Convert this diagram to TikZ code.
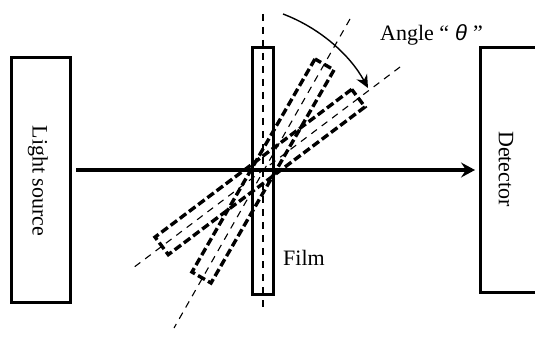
\documentclass[tikz,border=0pt]{standalone}
\usepackage{fontspec}
\setmainfont{Liberation Serif}
\newfontfamily\thetafont{Liberation Sans}
\usetikzlibrary{arrows.meta}

\begin{document}
\begin{tikzpicture}[
  x=1pt, y=-1pt,
  font=\fontsize{22}{24}\selectfont,
  box/.style    ={draw, line width=3pt, inner sep=0pt},
  sample/.style ={draw, line width=3.4pt, dash pattern=on 8pt off 3.5pt, inner sep=0pt,
                  minimum width=246pt, minimum height=22pt},
  axis/.style   ={line width=1.1pt, dash pattern=on 7pt off 6pt},
  flow/.style   ={-{Stealth[length=14pt,width=15pt,inset=5pt]}, line width=3.2pt},
  sweep/.style  ={-{Stealth[length=13pt,width=12pt]}, line width=1.4pt},
  lbl/.style    ={inner sep=0pt},
]
\useasboundingbox (0,0) rectangle (535,342);

\node[box, minimum width=59pt, minimum height=244pt] (source) at (40.5,180) {};
\node[lbl, rotate=-90] (sourcelabel) at (38,181) {Light source};
\node[box, minimum width=70pt, minimum height=245pt, anchor=north west] (detector) at (479,46) {};
\node[lbl, rotate=-90] (detectorlabel) at (506,169) {Detector};

\node[box, minimum width=21pt, minimum height=246pt] (film) at (262.5,171) {};
\node[lbl, anchor=west] (filmlabel) at (283,258) {Film};

\node[sample, rotate=60] (steep) at (263,171) {};
\node[sample, rotate=36.9] (wide) at (260,172) {};

% reference lines
\coordinate (normaltop) at (263,14);
\coordinate (normalbot) at (263,312);
\coordinate (steeptop) at (350,19);
\coordinate (steepbot) at (174,328);
\coordinate (widetop) at (400,67);
\coordinate (widebot) at (133,268);
\draw[axis] (normaltop) -- (normalbot);
\draw[axis] (steeptop) -- (steepbot);
\draw[axis] (widetop) -- (widebot);

\coordinate (beamstart) at (76,170);
\coordinate (beamend) at (475,170);
\draw[flow] (beamstart) -- (beamend);

\coordinate (sweepstart) at (283,14);
\coordinate (sweepend) at (368,88);
\draw[sweep] (sweepstart) .. controls (320,28) and (350,55) .. (sweepend);

\node[lbl, anchor=west] (angle) at (380,35) {Angle ``\kern6pt{\thetafont\itshape θ}\kern6pt''};

\end{tikzpicture}
\end{document}
